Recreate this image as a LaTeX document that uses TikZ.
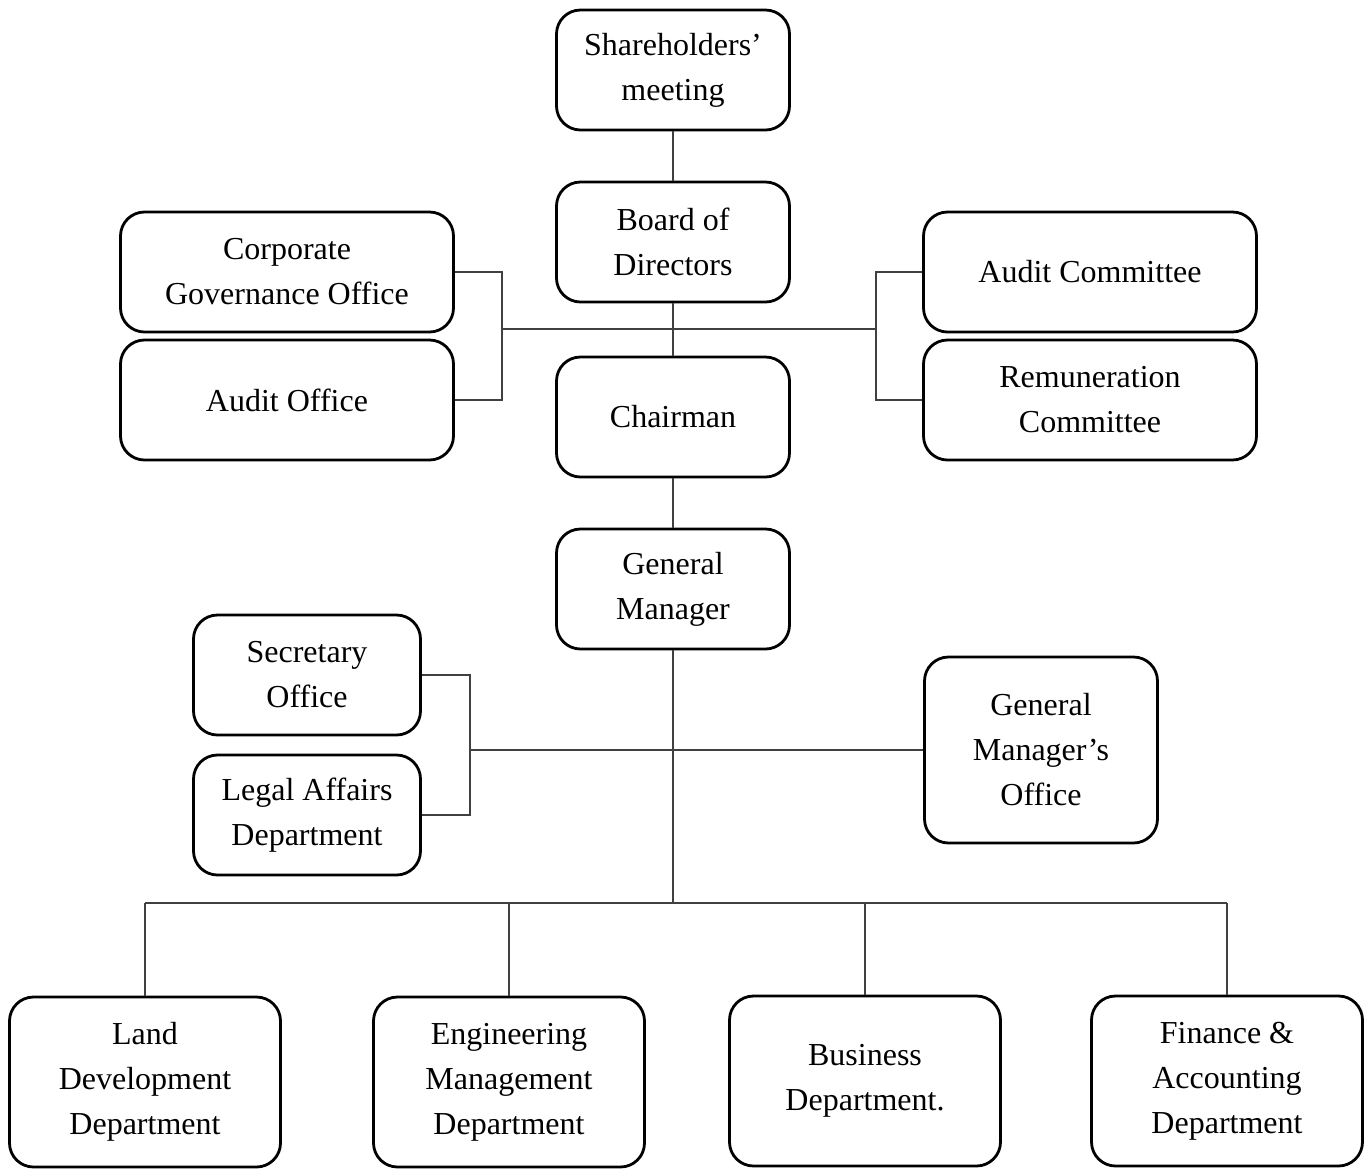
\documentclass[tikz,border=0pt]{standalone}
\usepackage{fontspec}
\setmainfont{Liberation Serif}

\begin{document}
\begin{tikzpicture}[x=0.5pt , y=-0.5pt ,
    box/.style={draw , line width=1.4pt , rounded corners=12pt , align=center ,
                font=\fontsize{16}{22.5}\selectfont , inner sep=0pt},
    mid/.style={box , minimum width=116.5pt , minimum height=60pt},
    side/.style={box , minimum width=166.5pt , minimum height=60pt},
    small/.style={box , minimum width=113.5pt , minimum height=60pt},
    dept/.style={box , minimum width=135.5pt , minimum height=85pt},
    conn/.style={draw=black!75 , line width=0.7pt}]
  \useasboundingbox (0 , 0) rectangle (1372 , 1169);
  % centre column
  \node[mid] (sh)    at (673 , 70)  {Shareholders'\\meeting};
  \node[mid] (bod)   at (673 , 242) {Board of\\Directors};
  \node[mid] (chair) at (673 , 417) {Chairman};
  \node[mid] (gm)    at (673 , 589) {General\\Manager};
  % offices beside the board
  \node[side] (cgo) at (287 , 272)  {Corporate\\Governance Office};
  \node[side] (ao)  at (287 , 400)  {Audit Office};
  \node[side] (ac)  at (1090 , 272) {Audit Committee};
  \node[side] (rc)  at (1090 , 400) {Remuneration\\Committee};
  % offices beside the general manager
  \node[small] (sec)   at (307 , 675) {Secretary\\Office};
  \node[small] (legal) at (307 , 815) {Legal Affairs\\Department};
  \node[mid , minimum height=93pt] (gmo) at (1041 , 750) {General\\Manager's\\Office};
  % departments
  \node[dept] (land) at (145 , 1082)  {Land\\Development\\Department};
  \node[dept] (eng)  at (509 , 1082)  {Engineering\\Management\\Department};
  \node[dept] (bus)  at (865 , 1081)  {Business\\Department.};
  \node[dept] (fin)  at (1227 , 1081) {Finance \&\\Accounting\\Department};

  \coordinate (lj)  at (502 , 329);
  \coordinate (rj)  at (876 , 329);
  \coordinate (mj)  at (470 , 750);
  \coordinate (hub) at (673 , 903);

  \draw[conn] (sh) -- (bod)
              (bod) -- (chair)
              (chair) -- (gm)
              (gm) -- (hub);
  \draw[conn] (lj) -- (rj);
  \draw[conn] (cgo.east) -| (lj) |- (ao.east);
  \draw[conn] (ac.west) -| (rj) |- (rc.west);
  \draw[conn] (sec.east) -| (mj) |- (legal.east);
  \draw[conn] (mj) -- (gmo);
  \draw[conn] (land.north |- hub) -- (fin.north |- hub);
  \foreach \d in {land,eng,bus,fin}
    \draw[conn] (\d) -- (\d.north |- hub);
\end{tikzpicture}
\end{document}
